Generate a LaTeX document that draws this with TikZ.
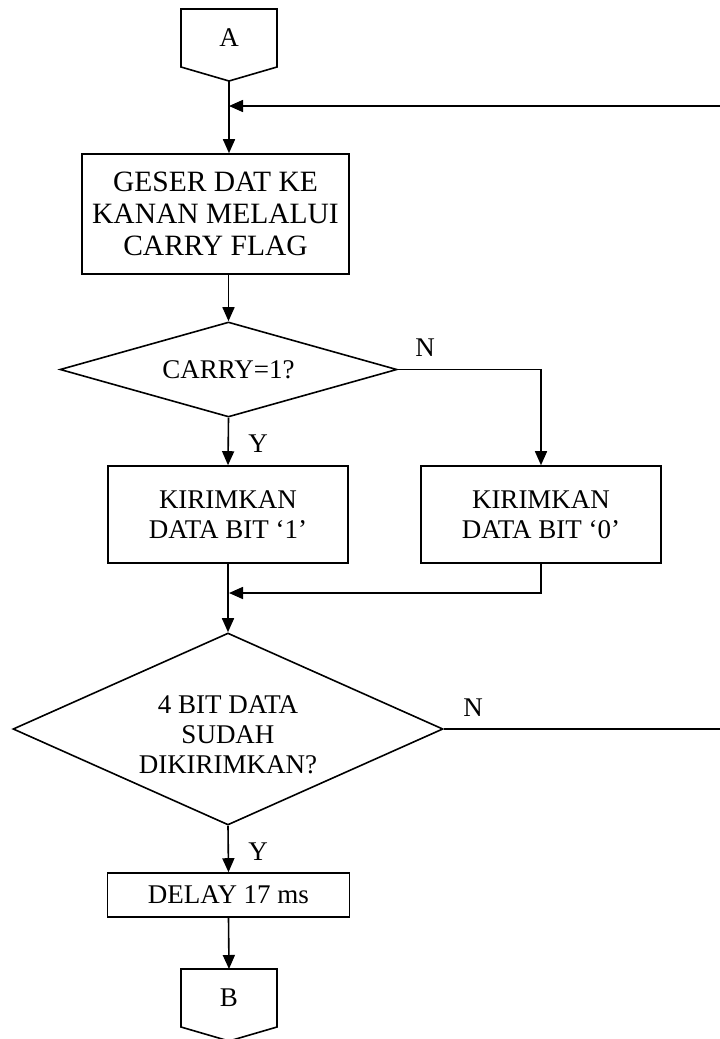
\documentclass[tikz,border=0pt]{standalone}
\usepackage{fontspec}
\setmainfont{Liberation Serif}
\usetikzlibrary{arrows.meta,shapes.geometric}
\begin{document}
\begin{tikzpicture}[x=1pt,y=-1pt,
  line width=1.6pt,
  every node/.style={font=\fontsize{27}{30}\selectfont, align=center, inner sep=0pt},
  box/.style={draw, rectangle},
  decision/.style={draw, diamond},
  arr/.style={-{Triangle[length=14pt,width=12pt]}}]
\useasboundingbox (0,0) rectangle (720,1039);
% terminals
\node (A) at (229,38) {A};
\draw (181,9) -- (277,9) -- (277,67) -- (229,81) -- (181,67) -- cycle;
\coordinate (Abot) at (229,81);
\node (B) at (229,998) {B};
\draw (181,969) -- (277,969) -- (277,1027) -- (229,1041) -- (181,1027) -- cycle;
\coordinate (Btop) at (229,969);
% process nodes
\node[box, minimum width=267, minimum height=120, font=\fontsize{29.5}{32}\selectfont] (geser) at (215.5,214) {GESER DAT KE\\KANAN MELALUI\\CARRY FLAG};
\node[decision, aspect=3.55, minimum width=337, minimum height=95] (carry) at (228.5,369.5) {CARRY=1?};
\node[box, minimum width=240, minimum height=97] (k1) at (228,514.5) {KIRIMKAN\\DATA BIT ‘1’};
\node[box, minimum width=240, minimum height=97] (k0) at (541,514.5) {KIRIMKAN\\DATA BIT ‘0’};
\node[decision, aspect=2.24, minimum width=430, minimum height=192] (cek) at (228,729) {};
\node (cekt) at (228,735) {4 BIT DATA\\SUDAH\\DIKIRIMKAN?};
\node[box, minimum width=242, minimum height=44] (delay) at (228.5,895) {DELAY 17 ms};
% labels
\node (n1) at (425,348) {N};
\node (y1) at (258,444) {Y};
\node (n2) at (473,708) {N};
\node (y2) at (258,852) {Y};
% helper coordinates
\coordinate (loopJ) at (229,106);
\coordinate (loopR) at (720,106);
\coordinate (mergeJ) at (229,593);
\coordinate (nR) at (720,729);
% connectors
\draw (Abot) -- (loopJ);
\draw[arr] (loopR) -- (loopJ);
\draw[arr] (loopJ) -- (loopJ |- geser.north);
\draw[arr] (carry.north |- geser.south) -- (carry.north);
\draw[arr] (carry.south) -- (k1.north);
\draw[arr] (carry.east) -| (k0.north);
\draw[arr] (k1.south) -- (cek.north);
\draw[arr] (k0.south) |- (mergeJ);
\draw[arr] (cek.south) -- (delay.north);
\draw (cek.east) -- (nR);
\draw[arr] (delay.south) -- (Btop);
\end{tikzpicture}
\end{document}
